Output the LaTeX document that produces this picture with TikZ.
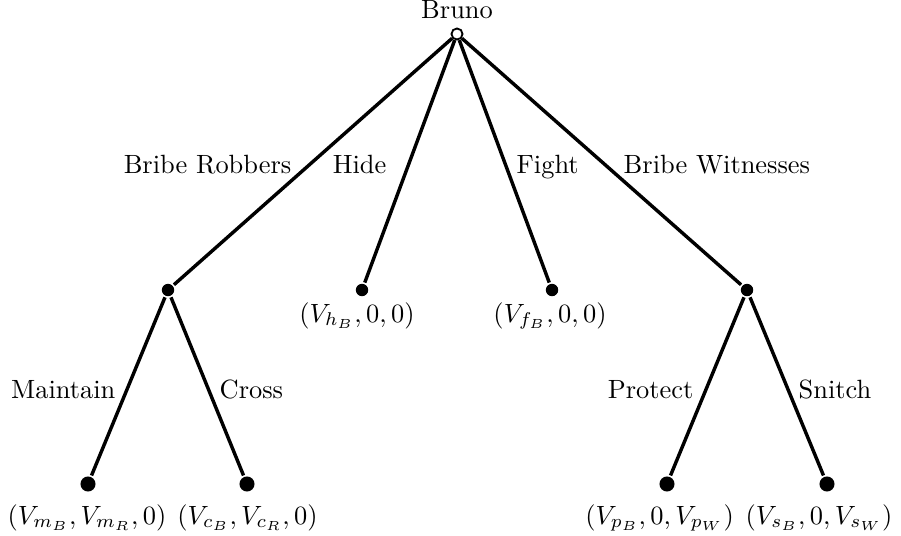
\documentclass[tikz,border=0pt]{standalone}
\usetikzlibrary{positioning}
\tikzset{
  every picture/.style={line width=1.3pt},
  move/.style={circle, fill=black, inner sep=0pt, minimum size=4.7pt},
  endmove/.style={move, minimum size=5.7pt},
  start/.style={circle, draw=black, fill=white, line width=0.7pt, inner sep=0pt, minimum size=4.2pt},
  act/.style={inner sep=0pt},
  pay/.style={inner sep=0pt, anchor=base},
}
\begin{document}
\begin{tikzpicture}[x=0.3788pt, y=-0.3788pt]
  \useasboundingbox (0,0) rectangle (901,535);
  % Bruno moves first
  \node[start] (root) at (457,34) {};
  \node[anchor=base, inner sep=0pt] (bruno) at (457,19) {Bruno};
  \node[move] (br) at (168,290) {};
  \node[move] (hide) at (362,290) {};
  \node[move] (fight) at (552,290) {};
  \node[move] (bw) at (747,290) {};
  % second level
  \node[endmove] (mt) at (88,484) {};
  \node[endmove] (cr) at (247,484) {};
  \node[endmove] (pr) at (667,484) {};
  \node[endmove] (sn) at (827,484) {};
  \foreach \a/\b in {root/br, root/hide, root/fight, root/bw, br/mt, br/cr, bw/pr, bw/sn}
    \draw (\a) -- (\b);
  % actions
  \node[act, anchor=base east] (lbr) at (293,173) {Bribe Robbers};
  \node[act, anchor=base east] (lhide) at (388,173) {Hide};
  \node[act, anchor=base west] (lfight) at (515,173) {Fight};
  \node[act, anchor=base west] (lbw) at (622,173) {Bribe Witnesses};
  \node[act, anchor=base east] (lmt) at (117,398) {Maintain};
  \node[act, anchor=base west] (lcr) at (218,398) {Cross};
  \node[act, anchor=base east] (lpr) at (695,398) {Protect};
  \node[act, anchor=base west] (lsn) at (797,398) {Snitch};
  % payoffs
  \node[pay] (phide) at (357,322) {$(V_{h_B},0,0)$};
  \node[pay] (pfight) at (550,322) {$(V_{f_B},0,0)$};
  \node[pay] (pmt) at (87,524) {$(V_{m_B},V_{m_R},0)$};
  \node[pay] (pcr) at (247.5,524) {$(V_{c_B},V_{c_R},0)$};
  \node[pay] (ppr) at (659.5,524) {$(V_{p_B},0,V_{p_W})$};
  \node[pay] (psn) at (819,524) {$(V_{s_B},0,V_{s_W})$};
\end{tikzpicture}
\end{document}
